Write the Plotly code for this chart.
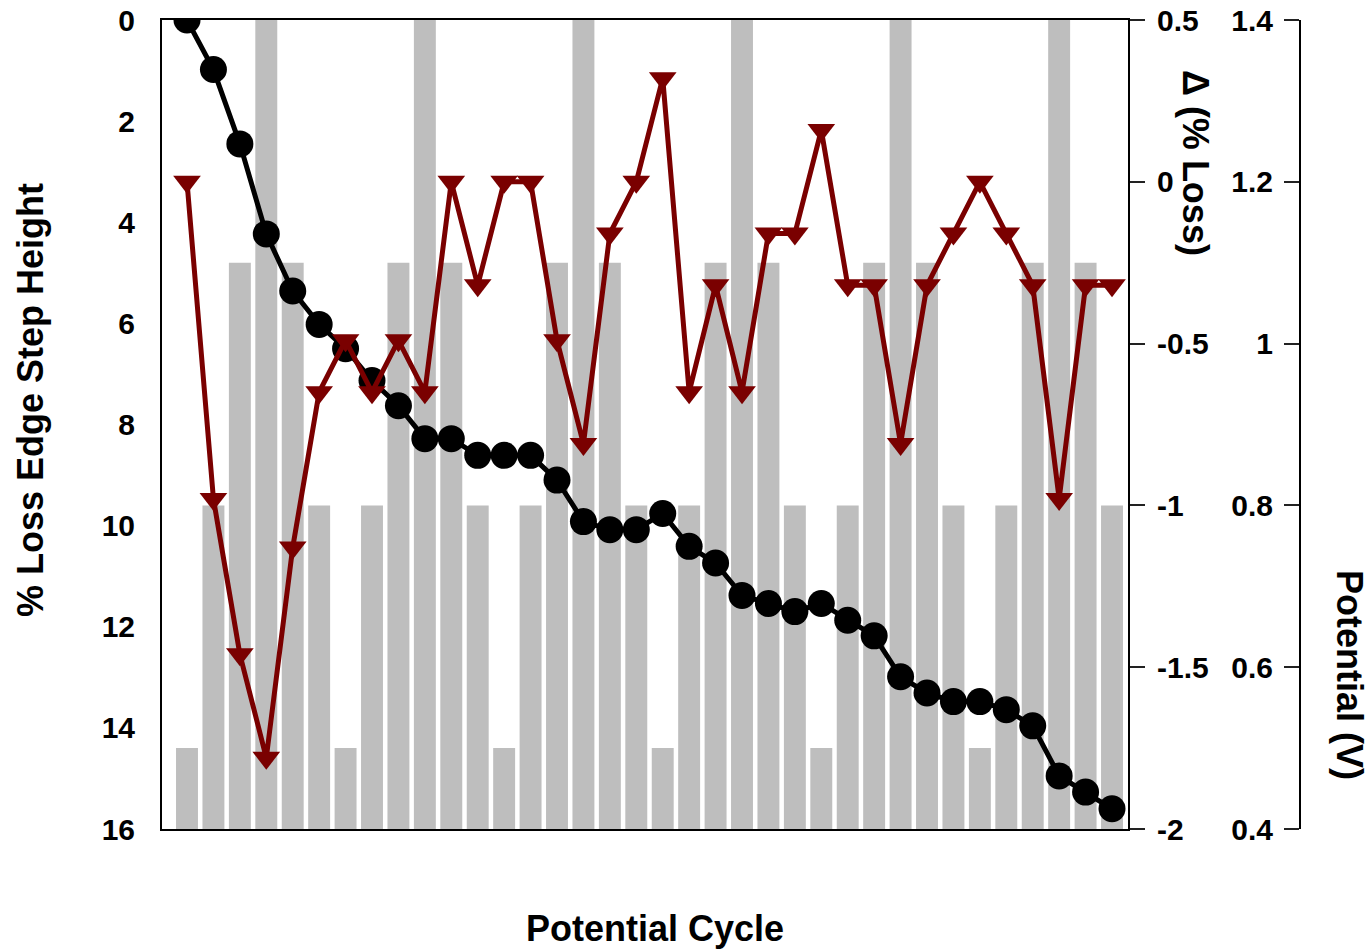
import plotly.graph_objects as go

cycles = list(range(1, 37))
potential_v = [0.5, 0.8, 1.1, 1.4, 1.1, 0.8,
               0.5, 0.8, 1.1, 1.4, 1.1, 0.8,
               0.5, 0.8, 1.1, 1.4, 1.1, 0.8,
               0.5, 0.8, 1.1, 1.4, 1.1, 0.8,
               0.5, 0.8, 1.1, 1.4, 1.1, 0.8,
               0.5, 0.8, 1.1, 1.4, 1.1, 0.8]
loss_pct = [0.0, 0.98, 2.45, 4.23, 5.36, 6.02, 6.5, 7.13, 7.63, 8.28,
            8.28, 8.61, 8.61, 8.61, 9.1, 9.92, 10.08, 10.08, 9.76, 10.41,
            10.74, 11.38, 11.54, 11.7, 11.54, 11.87, 12.18, 12.99, 13.31, 13.48,
            13.48, 13.64, 13.96, 14.95, 15.27, 15.6]
delta_loss = [0.0, -0.98, -1.46, -1.78, -1.13, -0.65, -0.49, -0.65, -0.49, -0.65,
              0.0, -0.32, 0.0, 0.0, -0.49, -0.81, -0.16, 0.0, 0.32, -0.65,
              -0.32, -0.65, -0.16, -0.16, 0.16, -0.32, -0.32, -0.81, -0.32, -0.16,
              0.0, -0.16, -0.32, -0.98, -0.32, -0.32]

loss_ticks = [0, 2, 4, 6, 8, 10, 12, 14, 16]
delta_ticks = [0.5, 0, -0.5, -1, -1.5, -2]
delta_ticktext = ["0.5", "0", "-0.5", "-1", "-1.5", "-2"]
pot_ticks = [1.4, 1.2, 1.0, 0.8, 0.6, 0.4]
pot_ticktext = ["1.4", "1.2", "1", "0.8", "0.6", "0.4"]

FONT = "Liberation Sans, Arial, sans-serif"
W, H = 1371, 950
ML, MR, MT, MB = 162, 71, 20, 121
PW, PH = W - ML - MR, H - MT - MB


def px(x):
    return (x - ML) / PW


def py(y):
    return (H - MB - y) / PH


fig = go.Figure()
fig.add_trace(go.Bar(x=cycles, y=potential_v, yaxis="y",
                     marker=dict(color="#BEBEBE", line=dict(width=0)),
                     showlegend=False))
fig.add_trace(go.Scatter(x=cycles, y=loss_pct, yaxis="y2", mode="lines+markers",
                         line=dict(color="black", width=5),
                         marker=dict(symbol="circle", size=27, color="black"),
                         showlegend=False))
fig.add_trace(go.Scatter(x=cycles, y=delta_loss, yaxis="y3", mode="lines+markers",
                         line=dict(color="#7A0000", width=5),
                         marker=dict(symbol="triangle-down", size=24, color="#7A0000"),
                         showlegend=False))

tickfont = dict(family=FONT, size=30, color="black", weight="bold")
titlefont = dict(family=FONT, size=36, color="black", weight="bold")

fig.update_layout(
    width=W, height=H,
    margin=dict(l=ML, r=MR, t=MT, b=MB),
    paper_bgcolor="white", plot_bgcolor="white",
    bargap=0.17,
    xaxis=dict(domain=[0, (1128 - ML) / PW], range=[0.054, 36.605],
               showticklabels=False, ticks="", showgrid=False, zeroline=False,
               showline=True, linecolor="black", linewidth=2, mirror=True,
               anchor="y2", automargin=False),
    yaxis=dict(range=[0.4, 1.4], anchor="free", position=1.0, side="left",
               tickvals=pot_ticks, ticktext=pot_ticktext, tickfont=tickfont,
               ticks="outside", ticklen=15, tickwidth=2, tickcolor="#222222",
               ticklabelstandoff=5, automargin=False,
               showline=True, linecolor="black", linewidth=2,
               showgrid=False, zeroline=False),
    yaxis2=dict(range=[16, 0], overlaying="y", side="left", anchor="x",
                tickvals=loss_ticks, tickfont=tickfont, ticks="",
                ticklabelstandoff=19, automargin=False,
                showline=True, linecolor="black", linewidth=2,
                showgrid=False, zeroline=False),
    yaxis3=dict(range=[-2, 0.5], overlaying="y", side="right", anchor="x",
                tickvals=delta_ticks, ticktext=delta_ticktext, tickfont=tickfont,
                ticks="outside", ticklen=15, tickwidth=2, tickcolor="#222222",
                ticklabelstandoff=6, automargin=False,
                showline=True, linecolor="black", linewidth=2,
                showgrid=False, zeroline=False),
    annotations=[
        dict(text="% Loss Edge Step Height", x=px(30), y=py(400), xref="paper", yref="paper",
             showarrow=False, textangle=-90, xanchor="center", yanchor="middle",
             font=titlefont),
        dict(text="Δ (% Loss)", x=px(1196), y=py(163), xref="paper", yref="paper",
             showarrow=False, textangle=90, xanchor="center", yanchor="middle",
             font=titlefont),
        dict(text="Potential (V)", x=px(1350), y=py(675), xref="paper", yref="paper",
             showarrow=False, textangle=90, xanchor="center", yanchor="middle",
             font=titlefont),
        dict(text="Potential Cycle", x=px(655), y=py(928), xref="paper", yref="paper",
             showarrow=False, xanchor="center", yanchor="middle",
             font=titlefont),
    ],
)

fig.write_html("out.html")
